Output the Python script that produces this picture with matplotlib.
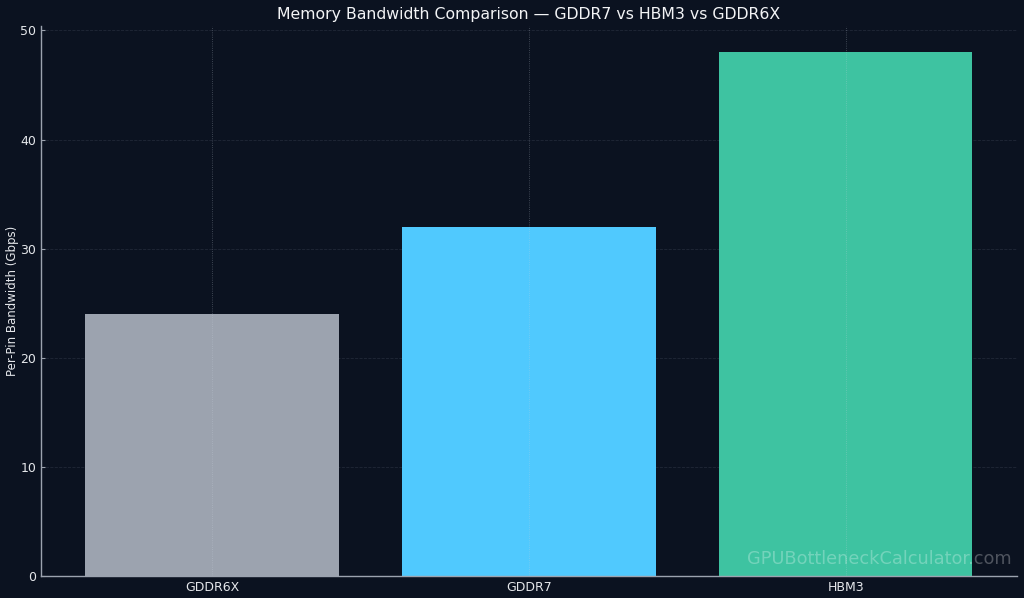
import matplotlib
matplotlib.use("Agg")
import matplotlib.pyplot as plt

categories = ["GDDR6X", "GDDR7", "HBM3"]
values = [24, 32, 48]
colors = ["#9ca3af", "#50c9fe", "#3ec3a1"]
title = "Memory Bandwidth Comparison — GDDR7 vs HBM3 vs GDDR6X"
ylabel = "Per-Pin Bandwidth (Gbps)"
watermark = "GPUBottleneckCalculator.com"

bg = "#0b1220"
fig = plt.figure(figsize=(10.24, 5.98), dpi=100, facecolor=bg)
ax = fig.add_axes([0.040, 0.0368, 0.953, 0.9197], facecolor=bg)

x = list(range(len(categories)))
ax.bar(x, values, width=0.8, color=colors, zorder=2)
ax.set_xticks(x)
ax.set_xticklabels(categories)
ax.set_ylim(0, 50.4)

ax.set_axisbelow(True)
ax.yaxis.grid(True, color="#2a3242", linestyle="--", linewidth=0.6, alpha=0.7)
for xi in x:
    ax.axvline(xi, color="#cbd5e1", linestyle=":", linewidth=0.6, alpha=0.35, zorder=3)

for s in ["top", "right"]:
    ax.spines[s].set_visible(False)
for s in ["left", "bottom"]:
    ax.spines[s].set_color("#9ca3af")
    ax.spines[s].set_linewidth(1.0)

ax.tick_params(axis="both", direction="in", colors="#9ca3af", labelcolor="#e5e7eb",
               labelsize=9, length=3)
ax.set_ylabel(ylabel, color="#e5e7eb", fontsize=8.5)
ax.yaxis.set_label_coords(-0.022, 0.5)
ax.set_title(title, color="#f3f4f6", fontsize=11.3, pad=5)

fig.text(0.988, 0.066, watermark, ha="right", va="center", fontsize=12.8,
         color="white", alpha=0.28)

fig.savefig("out.png", dpi=100, facecolor=bg)
